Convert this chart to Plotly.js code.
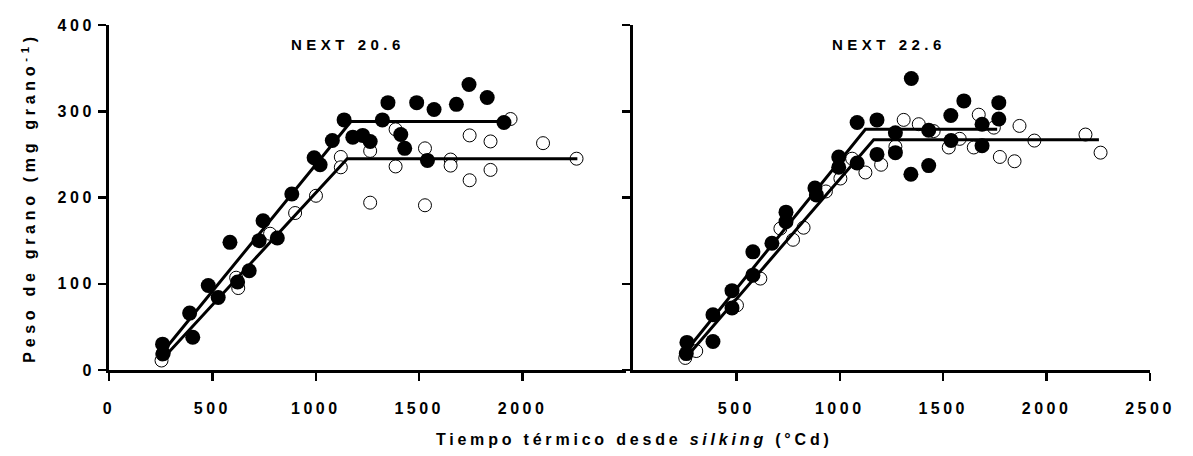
<!DOCTYPE html>
<html>
<head>
<meta charset="utf-8">
<script src="https://cdn.plot.ly/plotly-3.0.1.min.js"></script>
<style>
  html, body { margin: 0; padding: 0; background: #fff; }
  #chart { width: 1193px; height: 456px; }
  .xtick text, .x2tick text, .ytick text { letter-spacing: 3.5px; }
  .g-ytitle text { letter-spacing: 4.7px; }
  .annotation-text { letter-spacing: 4.5px; }
  .annotation.xtitle-ann .annotation-text { letter-spacing: 3.8px; }
</style>
</head>
<body>
<div id="chart"></div>
<script>
// ---------- Data (thermal time °Cd, grain weight mg grain^-1) ----------
// Panel NEXT 20.6 — filled symbols
const p1FilledX = [259, 262, 390, 405, 480, 528, 585, 622, 678, 726, 745, 814, 884, 992, 1021, 1080, 1137, 1179, 1227, 1263, 1322, 1349, 1411, 1430, 1488, 1540, 1572, 1680, 1741, 1829, 1910];
const p1FilledY = [30, 19, 66, 38, 98, 84, 148, 102, 115, 150, 173, 153, 204, 246, 238, 266, 290, 270, 272, 265, 290, 310, 273, 257, 310, 243, 302, 308, 331, 316, 287];
// Panel NEXT 20.6 — open symbols
const p1OpenX = [254, 258, 615, 625, 779, 900, 1001, 1121, 1121, 1263, 1263, 1386, 1386, 1528, 1528, 1652, 1652, 1744, 1744, 1845, 1845, 1942, 2099, 2261];
const p1OpenY = [11, 18, 107, 95, 158, 182, 202, 247, 235, 254, 194, 279, 236, 257, 191, 244, 237, 272, 220, 265, 232, 291, 263, 245];
// Panel NEXT 20.6 — fitted bilinear lines
const p1FitFilledX = [250, 1170, 1910];
const p1FitFilledY = [18, 288, 288];
const p1FitOpenX = [260, 1152, 2265];
const p1FitOpenY = [13, 245, 245];

// Panel NEXT 22.6 — filled symbols
const p2FilledX = [261, 258, 387, 387, 479, 479, 580, 580, 672, 740, 740, 880, 887, 995, 995, 1084, 1084, 1180, 1180, 1269, 1269, 1344, 1346, 1430, 1430, 1537, 1538, 1600, 1688, 1688, 1769, 1769];
const p2FilledY = [32, 19, 33, 64, 92, 72, 137, 110, 147, 183, 172, 211, 203, 247, 235, 287, 240, 290, 250, 275, 252, 227, 338, 278, 237, 295, 266, 312, 285, 260, 310, 291];
// Panel NEXT 22.6 — open symbols
const p2OpenX = [253, 306, 503, 616, 713, 774, 825, 933, 1003, 1060, 1124, 1200, 1269, 1309, 1382, 1454, 1527, 1580, 1648, 1672, 1745, 1774, 1845, 1869, 1941, 2188, 2261];
const p2OpenY = [14, 22, 75, 106, 164, 151, 165, 207, 222, 245, 229, 238, 259, 290, 285, 277, 258, 268, 258, 296, 281, 247, 242, 283, 266, 273, 252];
// Panel NEXT 22.6 — fitted bilinear lines
const p2FitFilledX = [250, 1124, 1761];
const p2FitFilledY = [20, 279, 279];
const p2FitOpenX = [255, 1164, 2253];
const p2FitOpenY = [14, 267, 267];

const panelTitles = ["NEXT 20.6", "NEXT 22.6"];
const xTitle = "Tiempo térmico desde <i>silking</i> (°Cd)";
const yTitle = "Peso de grano (mg grano<sup>-1</sup>)";
const xTicksLeft = [0, 500, 1000, 1500, 2000];
const xTicksRight = [500, 1000, 1500, 2000, 2500];
const yTicks = [0, 100, 200, 300, 400];

// ---------- Styling ----------
const FONT = "Liberation Sans, Arial, Helvetica, sans-serif";
const openMarker = { symbol: "circle", size: 13, color: "#ffffff", line: { color: "#000", width: 1 } };
const filledMarker = { symbol: "circle", size: 15, color: "#000000", line: { width: 0 } };
const fitLine = { color: "#000", width: 3 };

function open(x, y, xa, ya) { return { x, y, xaxis: xa, yaxis: ya, type: "scatter", mode: "markers", marker: openMarker, hoverinfo: "x+y", showlegend: false }; }
function filled(x, y, xa, ya) { return { x, y, xaxis: xa, yaxis: ya, type: "scatter", mode: "markers", marker: filledMarker, hoverinfo: "x+y", showlegend: false }; }
function fit(x, y, xa, ya) { return { x, y, xaxis: xa, yaxis: ya, type: "scatter", mode: "lines", line: fitLine, hoverinfo: "skip", showlegend: false }; }

const traces = [
  open(p1OpenX, p1OpenY, "x", "y"),
  filled(p1FilledX, p1FilledY, "x", "y"),
  fit(p1FitFilledX, p1FitFilledY, "x", "y"),
  fit(p1FitOpenX, p1FitOpenY, "x", "y"),
  open(p2OpenX, p2OpenY, "x2", "y2"),
  filled(p2FilledX, p2FilledY, "x2", "y2"),
  fit(p2FitFilledX, p2FitFilledY, "x2", "y2"),
  fit(p2FitOpenX, p2FitOpenY, "x2", "y2")
];

const tickFont = { family: FONT, size: 16, color: "#000", weight: "bold" };
const baseX = {
  range: [0, 2500], showgrid: false, zeroline: false, showline: true, linecolor: "#000", linewidth: 3,
  ticks: "outside", ticklen: 8, tickwidth: 2.5, tickcolor: "#000", tickfont: tickFont, fixedrange: true,
  ticklabelstandoff: 14
};
const baseY = {
  range: [0, 400], showgrid: false, zeroline: false, showline: true, linecolor: "#000", linewidth: 3,
  ticks: "outside", ticklen: 8, tickwidth: 2.5, tickcolor: "#000", tickfont: tickFont,
  tickvals: yTicks, ticktext: yTicks.map(String), fixedrange: true
};

const layout = {
  width: 1193, height: 456,
  margin: { l: 109, r: 43, t: 25, b: 86 },
  paper_bgcolor: "#fff", plot_bgcolor: "#fff",
  font: { family: FONT, color: "#000" },
  xaxis: Object.assign({}, baseX, {
    domain: [0, 0.4966], anchor: "y",
    tickvals: xTicksLeft, ticktext: xTicksLeft.map(String)
  }),
  xaxis2: Object.assign({}, baseX, {
    domain: [0.5033, 1], anchor: "y2",
    tickvals: xTicksRight, ticktext: xTicksRight.map(String)
  }),
  yaxis: Object.assign({}, baseY, {
    domain: [0, 1], anchor: "x",
    title: { text: yTitle, font: { family: FONT, size: 16, color: "#000", weight: "bold" }, standoff: 18 }
  }),
  yaxis2: Object.assign({}, baseY, {
    domain: [0, 1], anchor: "x2", showticklabels: false
  }),
  annotations: [
    { text: panelTitles[0], xref: "x", yref: "y", x: 1155, y: 377, showarrow: false, xanchor: "center", yanchor: "middle",
      font: { family: FONT, size: 15, color: "#000", weight: "bold" } },
    { text: panelTitles[1], xref: "x2", yref: "y2", x: 1240, y: 377, showarrow: false, xanchor: "center", yanchor: "middle",
      font: { family: FONT, size: 15, color: "#000", weight: "bold" } },
    { text: xTitle, xref: "paper", yref: "paper", x: 0.505, y: -0.2, showarrow: false, xanchor: "center", yanchor: "middle",
      font: { family: FONT, size: 16, color: "#000", weight: "bold" } }
  ]
};

Plotly.newPlot("chart", traces, layout, { displayModeBar: false, staticPlot: true }).then(function (gd) {
  // mark the axis-title annotation so its letter spacing can be tuned separately
  const anns = gd.querySelectorAll(".annotation");
  if (anns.length === 3) anns[2].classList.add("xtitle-ann");
});
</script>
</body>
</html>
